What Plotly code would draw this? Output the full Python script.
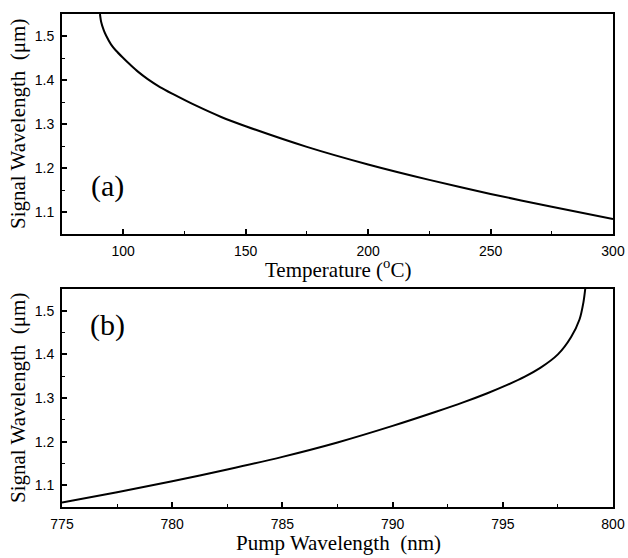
import plotly.graph_objects as go

# Panel (a): signal wavelength vs temperature
temp_c = [90.5, 91.0, 92.0, 93.0, 95.0, 97.0, 100, 103, 106, 110, 115, 120, 130, 140, 150,
          175, 200, 225, 250, 275, 300]
signal_a = [1.55, 1.532, 1.514, 1.501, 1.481, 1.467, 1.450, 1.434, 1.419, 1.402, 1.384, 1.369,
            1.341, 1.316, 1.295, 1.248, 1.208, 1.173, 1.141, 1.112, 1.084]

# Panel (b): signal wavelength vs pump wavelength
pump_nm = [775, 777.5, 780, 782.5, 785, 787.5, 790, 792, 793.2, 794.3, 795.2, 796.0, 796.7,
           797.5, 798.1, 798.48, 798.66, 798.74]
signal_b = [1.060, 1.084, 1.109, 1.136, 1.165, 1.198, 1.236, 1.269, 1.290, 1.311, 1.330, 1.349,
            1.369, 1.400, 1.440, 1.480, 1.520, 1.55]

y_ticks = [1.1, 1.2, 1.3, 1.4, 1.5]
x_ticks_a = [100, 150, 200, 250, 300]
x_ticks_b = [775, 780, 785, 790, 795, 800]

W, H = 628, 558
fig = go.Figure()
fig.add_trace(go.Scatter(x=temp_c, y=signal_a, mode="lines", xaxis="x", yaxis="y",
                         line=dict(color="black", width=2, shape="spline", smoothing=0.8),
                         showlegend=False))
fig.add_trace(go.Scatter(x=pump_nm, y=signal_b, mode="lines", xaxis="x2", yaxis="y2",
                         line=dict(color="black", width=2, shape="spline", smoothing=0.8),
                         showlegend=False))

xdom = [62 / W, 613 / W]
ydom_a = [1 - 234 / H, 1 - 14 / H]
ydom_b = [1 - 507 / H, 1 - 289 / H]

tickfont = dict(family="Liberation Sans, Arial, sans-serif", size=14, color="black")
common = dict(showline=True, linecolor="black", linewidth=2, mirror=True, ticks="inside",
              ticklen=5, tickwidth=1.5, tickcolor="black", showgrid=False, zeroline=False,
              tickfont=tickfont, automargin=False)
minor_x = dict(ticks="inside", ticklen=3, tickcolor="black", tickwidth=1, showgrid=False)

fig.update_layout(
    width=W, height=H, margin=dict(l=0, r=0, t=0, b=0),
    paper_bgcolor="white", plot_bgcolor="white",
    xaxis=dict(domain=xdom, range=[75, 300], tickvals=x_ticks_a, anchor="y",
               minor=dict(dtick=25, **minor_x), ticklabelstandoff=3, **common),
    yaxis=dict(domain=ydom_a, range=[1.05, 1.55], tickvals=y_ticks, anchor="x",
               tickformat=".1f", minor=dict(dtick=0.05, **minor_x), ticklabelstandoff=3, **common),
    xaxis2=dict(domain=xdom, range=[775, 800], tickvals=x_ticks_b, anchor="y2",
                minor=dict(dtick=2.5, **minor_x), ticklabelstandoff=3, **common),
    yaxis2=dict(domain=ydom_b, range=[1.05, 1.55], tickvals=y_ticks, anchor="x2",
                tickformat=".1f", minor=dict(dtick=0.05, **minor_x), ticklabelstandoff=3, **common),
)

serif = "Liberation Serif, Times New Roman, serif"
ann = [
    dict(text="Temperature (<sup>o</sup>C)", x=338 / W, y=1 - 268 / H),
    dict(text="Pump Wavelength  (nm)", x=338 / W, y=1 - 543 / H),
]
for a in ann:
    fig.add_annotation(xref="paper", yref="paper", x=a["x"], y=a["y"], text=a["text"],
                       showarrow=False, xanchor="center", yanchor="middle",
                       font=dict(family=serif, size=21, color="black"))
for yc in [124, 398]:
    fig.add_annotation(xref="paper", yref="paper", x=18 / W, y=1 - yc / H,
                       text="Signal Wavelength  (μm)", textangle=-90, showarrow=False,
                       xanchor="center", yanchor="middle",
                       font=dict(family=serif, size=21, color="black"))
fig.add_annotation(xref="paper", yref="paper", x=107 / W, y=1 - 186 / H, text="(a)",
                   showarrow=False, xanchor="center", yanchor="middle",
                   font=dict(family=serif, size=30, color="black"))
fig.add_annotation(xref="paper", yref="paper", x=107 / W, y=1 - 325 / H, text="(b)",
                   showarrow=False, xanchor="center", yanchor="middle",
                   font=dict(family=serif, size=30, color="black"))

fig.write_html("out.html")
